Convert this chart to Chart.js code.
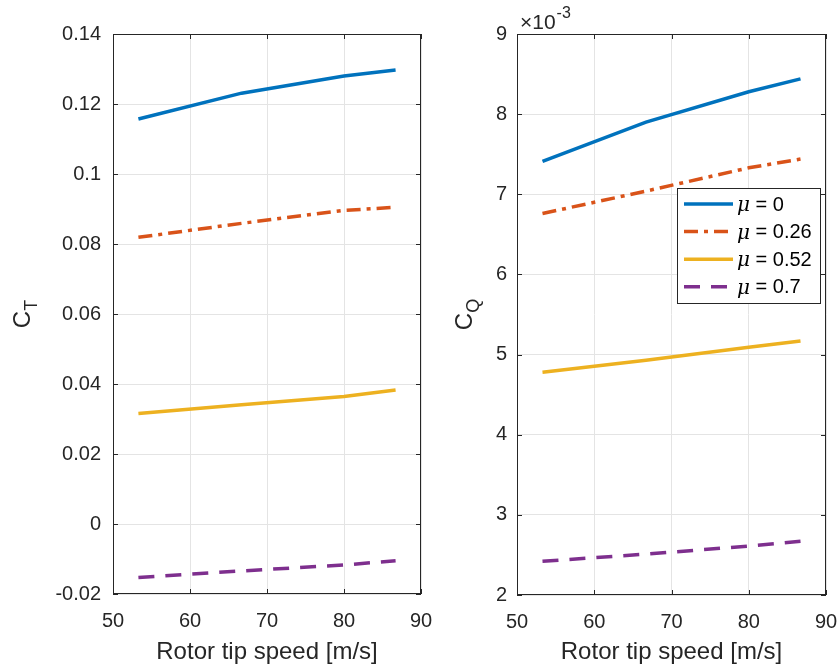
<!DOCTYPE html>
<html>
<head>
<meta charset="utf-8">
<script src="https://cdn.jsdelivr.net/npm/chart.js@4.4.1/dist/chart.umd.min.js"></script>
<style>
  html, body { margin: 0; padding: 0; background: #fff; }
  #wrap { position: relative; width: 838px; height: 669px; }
  #left { position: absolute; left: 0; top: 0; }
  #right { position: absolute; left: 430px; top: 0; }
</style>
</head>
<body>
<div id="wrap">
  <canvas id="left" width="433" height="669"></canvas>
  <canvas id="right" width="408" height="669"></canvas>
</div>
<script>
// rotor tip speed [m/s]
const tipSpeed = [53.3, 66.7, 80, 86.7];
const muValues = ['0', '0.26', '0.52', '0.7'];

// thrust coefficient C_T, one array per advance ratio
const ctMu0 = [0.1157, 0.1231, 0.1280, 0.1297];
const ctMu026 = [0.0819, 0.0859, 0.0896, 0.0905];
const ctMu052 = [0.0316, 0.0341, 0.0364, 0.0383];
const ctMu07 = [-0.0153, -0.0134, -0.0117, -0.0105];

// torque coefficient C_Q, in units of 1e-3 (as shown on the axis)
const cqMu0 = [7.41, 7.90, 8.28, 8.44];
const cqMu026 = [6.76, 7.04, 7.33, 7.44];
const cqMu052 = [4.78, 4.93, 5.09, 5.17];
const cqMu07 = [2.42, 2.51, 2.61, 2.67];

const xTicks = [50, 60, 70, 80, 90];

const colors = ['#0072BD', '#D95319', '#EDB120', '#7E2F8E'];
const dashes = [[], [14, 6, 4, 6], [], [16, 11]];
const axisColor = '#262626';

function makeDatasets(series) {
    return series.map((vals, i) => ({
        label: '\u03bc = ' + muValues[i],
        data: vals.map((v, j) => ({ x: tipSpeed[j], y: v })),
        borderColor: colors[i],
        backgroundColor: colors[i],
        borderWidth: 3.5,
        borderDash: dashes[i],
        pointRadius: 0,
        tension: 0
    }));
}

// box around the axes + inward tick marks like MATLAB
const matlabFrame = {
    id: 'matlabFrame',
    afterDatasetsDraw(chart) {
        const { ctx, chartArea: a, scales: { x, y } } = chart;
        ctx.save();
        ctx.strokeStyle = axisColor;
        ctx.lineWidth = 1;
        ctx.setLineDash([]);
        ctx.strokeRect(a.left + 0.5, a.top + 0.5, a.width - 1, a.height - 1);
        ctx.beginPath();
        x.ticks.forEach(t => {
            const px = Math.round(x.getPixelForValue(t.value)) + 0.5;
            ctx.moveTo(px, a.bottom); ctx.lineTo(px, a.bottom - 5);
            ctx.moveTo(px, a.top); ctx.lineTo(px, a.top + 5);
        });
        y.ticks.forEach(t => {
            const py = Math.round(y.getPixelForValue(t.value)) + 0.5;
            ctx.moveTo(a.left, py); ctx.lineTo(a.left + 5, py);
            ctx.moveTo(a.right, py); ctx.lineTo(a.right - 5, py);
        });
        ctx.stroke();

        // y label with subscript
        const o = chart.options.plugins.matlabFrame;
        ctx.fillStyle = axisColor;
        ctx.translate(o.labelX, (a.top + a.bottom) / 2);
        ctx.rotate(-Math.PI / 2);
        ctx.font = '24px "Liberation Sans", Arial, sans-serif';
        const wC = ctx.measureText('C').width;
        ctx.font = '18px "Liberation Sans", Arial, sans-serif';
        const wS = ctx.measureText(o.sub).width;
        const x0 = -(wC + wS) / 2;
        ctx.textBaseline = 'alphabetic';
        ctx.font = '24px "Liberation Sans", Arial, sans-serif';
        ctx.fillText('C', x0, 0);
        ctx.font = '18px "Liberation Sans", Arial, sans-serif';
        ctx.fillText(o.sub, x0 + wC, 7);
        ctx.restore();
    }
};

// legend box drawn inside the axes, plus the x10^-3 exponent
const innerLegend = {
    id: 'innerLegend',
    afterDraw(chart) {
        const { ctx, chartArea: a } = chart;
        ctx.save();
        // exponent
        ctx.fillStyle = axisColor;
        ctx.font = '21px "Liberation Sans", Arial, sans-serif';
        ctx.textBaseline = 'alphabetic';
        ctx.fillText('\u00d710', a.left + 3, a.top - 5);
        const w10 = ctx.measureText('\u00d710').width;
        ctx.font = '16px "Liberation Sans", Arial, sans-serif';
        ctx.fillText('-3', a.left + 4 + w10, a.top - 16);

        // legend
        const bw = 143, bh = 115;
        const bx = a.right - 6 - bw, by = a.top + 154;
        ctx.fillStyle = '#fff';
        ctx.fillRect(bx, by, bw, bh);
        ctx.strokeStyle = axisColor;
        ctx.lineWidth = 1;
        ctx.strokeRect(Math.round(bx) + 0.5, Math.round(by) + 0.5, bw, bh);
        chart.data.datasets.forEach((ds, i) => {
            const ry = by + 16 + i * 27.6;
            ctx.strokeStyle = ds.borderColor;
            ctx.lineWidth = 3.5;
            ctx.setLineDash(ds.borderDash);
            ctx.beginPath();
            ctx.moveTo(bx + 7, ry);
            ctx.lineTo(bx + 56, ry);
            ctx.stroke();
            ctx.setLineDash([]);
            ctx.fillStyle = '#000';
            ctx.textBaseline = 'middle';
            ctx.font = 'italic 20px "DejaVu Serif", serif';
            ctx.fillText('\u03bc', bx + 60, ry + 2);
            const wm = ctx.measureText('\u03bc').width;
            ctx.font = '20px "Liberation Sans", Arial, sans-serif';
            ctx.fillText(' = ' + muValues[i], bx + 60 + wm, ry + 1);
        });
        ctx.restore();
    }
};

function makeOptions(cfg) {
    return {
        responsive: false,
        animation: false,
        layout: { padding: { left: 0, right: 12, top: 34, bottom: 0 } },
        plugins: {
            legend: { display: false },
            tooltip: { enabled: false },
            matlabFrame: { labelX: cfg.labelX, sub: cfg.sub }
        },
        scales: {
            x: {
                type: 'linear',
                min: 50, max: 90,
                afterBuildTicks: s => { s.ticks = xTicks.map(v => ({ value: v })); },
                afterFit: s => {
                    s.height = cfg.xHeight;
                    s.paddingLeft = 0;
                    s.paddingRight = 0;
                },
                grid: { color: '#e4e4e4', drawTicks: false },
                border: { display: false },
                ticks: {
                    color: axisColor,
                    padding: 15,
                    autoSkip: false,
                    maxRotation: 0,
                    font: { family: '"Liberation Sans", Arial, sans-serif', size: 20 }
                },
                title: {
                    display: true,
                    text: 'Rotor tip speed [m/s]',
                    color: axisColor,
                    padding: { top: 0, bottom: 2 },
                    font: { family: '"Liberation Sans", Arial, sans-serif', size: 24 }
                }
            },
            y: {
                min: cfg.yMin, max: cfg.yMax,
                afterBuildTicks: s => { s.ticks = cfg.yTicks.map(v => ({ value: v })); },
                afterFit: s => { s.width = cfg.yWidth; },
                grid: { color: '#e4e4e4', drawTicks: false },
                border: { display: false },
                ticks: {
                    color: axisColor,
                    padding: cfg.yPad,
                    font: { family: '"Liberation Sans", Arial, sans-serif', size: 20 },
                    callback: v => String(parseFloat(v.toFixed(3)))
                }
            }
        }
    };
}

const ctTicks = [-0.02, 0, 0.02, 0.04, 0.06, 0.08, 0.1, 0.12, 0.14];
const cqTicks = [2, 3, 4, 5, 6, 7, 8, 9];

new Chart(document.getElementById('left'), {
    type: 'line',
    data: { datasets: makeDatasets([ctMu0, ctMu026, ctMu052, ctMu07]) },
    options: makeOptions({
        yMin: -0.02, yMax: 0.14, yTicks: ctTicks, yWidth: 113, yPad: 12,
        xHeight: 75, labelX: 30, sub: 'T'
    }),
    plugins: [matlabFrame]
});

new Chart(document.getElementById('right'), {
    type: 'line',
    data: { datasets: makeDatasets([cqMu0, cqMu026, cqMu052, cqMu07]) },
    options: makeOptions({
        yMin: 2, yMax: 9, yTicks: cqTicks, yWidth: 87, yPad: 10,
        xHeight: 74, labelX: 42, sub: 'Q'
    }),
    plugins: [matlabFrame, innerLegend]
});
</script>
</body>
</html>
